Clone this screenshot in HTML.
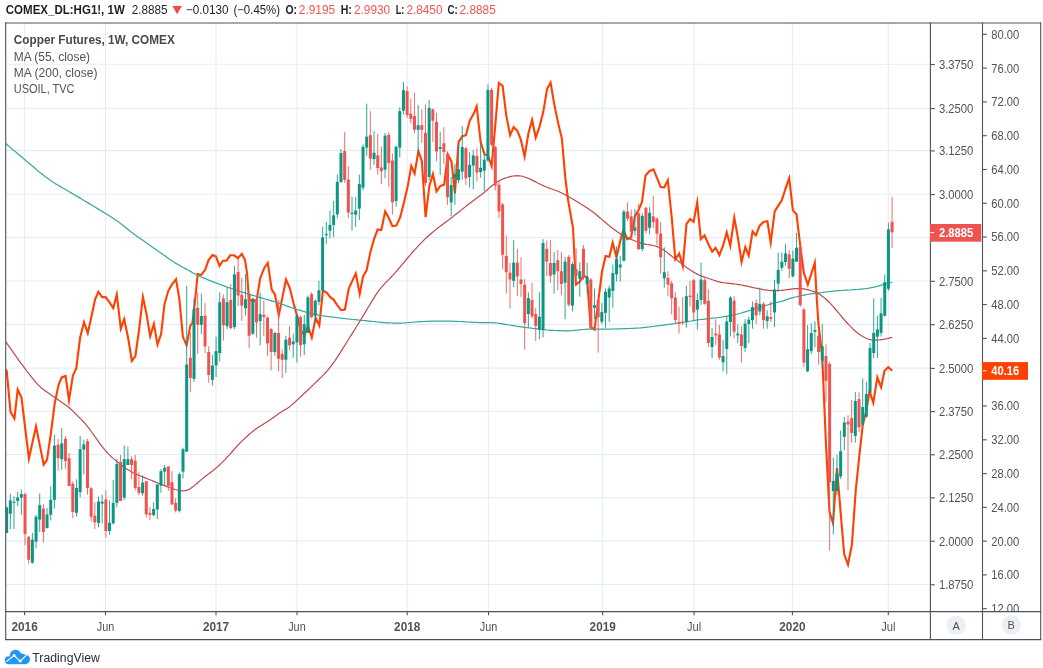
<!DOCTYPE html><html><head><meta charset="utf-8"><title>chart</title>
<style>html,body{margin:0;padding:0;background:#fff}body{width:1043px;height:668px;overflow:hidden;font-family:"Liberation Sans",sans-serif}svg{display:block;will-change:transform;transform:translateZ(0)}text{font-family:"Liberation Sans",sans-serif}</style></head><body>
<svg width="1043" height="668" viewBox="0 0 1043 668">
<rect width="1043" height="668" fill="#fff"/>
<defs><clipPath id="plot"><rect x="6" y="23.5" width="924" height="588"/></clipPath><clipPath id="axb"><rect x="983" y="23.5" width="57" height="588"/></clipPath></defs>
<g stroke="#e4edf3" stroke-width="1.1">
<line x1="6" x2="930" y1="64.2" y2="64.2"/>
<line x1="6" x2="930" y1="108.3" y2="108.3"/>
<line x1="6" x2="930" y1="150.6" y2="150.6"/>
<line x1="6" x2="930" y1="194.3" y2="194.3"/>
<line x1="6" x2="930" y1="237.6" y2="237.6"/>
<line x1="6" x2="930" y1="281.0" y2="281.0"/>
<line x1="6" x2="930" y1="324.4" y2="324.4"/>
<line x1="6" x2="930" y1="368.1" y2="368.1"/>
<line x1="6" x2="930" y1="411.3" y2="411.3"/>
<line x1="6" x2="930" y1="454.5" y2="454.5"/>
<line x1="6" x2="930" y1="497.6" y2="497.6"/>
<line x1="6" x2="930" y1="540.9" y2="540.9"/>
<line x1="6" x2="930" y1="584.5" y2="584.5"/>
<line x1="24.6" x2="24.6" y1="23" y2="611"/>
<line x1="105.5" x2="105.5" y1="23" y2="611"/>
<line x1="216.0" x2="216.0" y1="23" y2="611"/>
<line x1="297.0" x2="297.0" y1="23" y2="611"/>
<line x1="407.2" x2="407.2" y1="23" y2="611"/>
<line x1="488.5" x2="488.5" y1="23" y2="611"/>
<line x1="602.7" x2="602.7" y1="23" y2="611"/>
<line x1="694.1" x2="694.1" y1="23" y2="611"/>
<line x1="792.4" x2="792.4" y1="23" y2="611"/>
<line x1="888.3" x2="888.3" y1="23" y2="611"/>
</g>
<g clip-path="url(#plot)">
<path d="M4.8 368.8 L6.7 370.7 L10.5 411.9 L14.4 418.5 L17.7 389.5 L21.5 397.5 L28.9 458.7 L36.0 426.3 L43.7 464.6 L47.0 459.8 L50.8 434.0 L54.7 403.3 L58.5 385.1 L61.7 377.4 L65.6 376.0 L69.0 400.3 L72.9 375.5 L76.3 368.1 L80.1 337.8 L84.0 322.1 L87.8 333.2 L91.6 315.7 L95.1 299.4 L98.4 291.8 L102.2 297.1 L105.6 297.1 L109.5 302.3 L113.3 308.1 L116.8 294.4 L120.8 328.7 L124.2 319.2 L128.1 337.8 L131.9 360.8 L135.4 356.0 L139.0 330.1 L142.9 297.0 L146.3 312.9 L150.2 336.3 L153.9 323.9 L157.5 344.5 L161.1 334.0 L164.5 304.2 L168.3 290.8 L172.2 284.1 L176.0 279.3 L179.3 298.5 L182.9 336.8 L186.6 345.2 L190.4 325.3 L192.3 323.4 L194.2 309.0 L197.7 274.1 L201.3 274.9 L205.2 269.7 L208.6 260.1 L212.4 255.0 L215.9 256.3 L219.5 265.9 L223.0 260.7 L226.4 260.7 L230.3 255.3 L234.1 255.3 L237.9 258.2 L241.8 253.8 L245.0 260.1 L247.1 273.4 L249.0 301.2 L252.9 299.3 L256.3 302.2 L260.2 278.2 L264.4 267.7 L267.8 262.9 L271.7 289.7 L274.9 294.5 L278.8 315.2 L282.6 296.4 L286.0 279.5 L289.7 287.8 L293.5 303.1 L297.0 315.6 L300.8 330.9 L304.6 334.8 L308.1 326.2 L311.8 337.6 L315.6 317.7 L319.3 325.5 L322.9 290.7 L326.7 292.6 L330.5 297.4 L333.4 299.3 L337.2 305.1 L341.1 310.2 L344.9 309.5 L348.7 288.8 L352.6 280.1 L355.8 273.5 L359.7 294.0 L363.1 276.3 L366.6 270.3 L370.4 252.0 L374.2 238.6 L377.7 229.4 L381.3 230.0 L385.2 211.4 L388.6 217.5 L392.4 226.2 L396.3 225.6 L400.1 217.5 L404.0 202.2 L407.8 185.9 L411.3 165.9 L414.6 173.6 L418.4 151.1 L421.8 160.7 L425.6 217.2 L429.4 185.6 L432.9 174.1 L436.5 191.4 L440.4 186.0 L444.2 184.7 L447.8 154.4 L451.5 161.6 L454.9 193.3 L458.6 141.9 L462.4 136.2 L465.9 135.2 L469.7 120.8 L473.5 114.1 L476.7 106.5 L480.6 141.9 L484.5 154.4 L487.9 155.3 L491.6 166.0 L495.3 125.2 L498.8 83.0 L502.6 85.9 L506.3 115.6 L510.1 135.3 L513.6 127.1 L517.4 130.9 L520.8 139.6 L524.6 156.5 L528.5 132.9 L532.1 119.8 L535.7 137.5 L539.4 127.1 L543.3 111.8 L547.1 88.8 L550.6 82.6 L554.4 105.1 L558.2 123.3 L561.9 138.6 L565.3 177.9 L568.2 200.9 L573.0 227.8 L575.9 284.7 L579.7 281.8 L583.5 276.0 L587.0 277.0 L590.6 326.8 L594.5 329.7 L598.3 300.9 L602.1 271.2 L605.6 255.9 L609.4 256.8 L612.7 242.7 L616.5 257.5 L620.6 239.6 L623.4 229.7 L627.3 239.3 L631.1 237.4 L634.9 216.3 L638.8 209.6 L642.0 201.9 L645.5 175.6 L649.3 171.2 L653.5 169.3 L657.4 178.9 L660.6 187.1 L664.2 187.4 L667.8 180.2 L671.7 217.1 L675.3 259.3 L679.2 253.5 L682.8 266.2 L686.5 223.8 L690.1 219.0 L693.6 221.9 L697.2 202.3 L700.8 239.2 L704.5 235.3 L708.3 244.0 L712.2 251.6 L715.6 247.8 L719.4 255.1 L723.3 244.9 L726.7 232.3 L730.3 245.7 L734.3 217.6 L737.7 236.3 L741.6 262.0 L745.3 247.0 L748.7 255.6 L752.6 231.5 L755.9 235.3 L759.7 225.7 L763.5 221.9 L767.4 221.3 L770.7 242.5 L774.7 211.4 L778.3 205.6 L781.8 200.2 L785.6 188.4 L789.2 178.2 L792.9 210.4 L796.5 214.2 L800.4 246.8 L803.8 272.7 L807.8 284.7 L811.4 273.4 L814.8 262.7 L816.4 292.6 L818.4 323.3 L822.2 355.9 L826.0 445.0 L829.5 512.1 L833.0 523.2 L837.0 468.0 L840.6 512.1 L844.2 554.3 L848.0 564.7 L851.9 544.7 L855.7 491.0 L859.0 458.9 L862.8 424.4 L866.3 410.9 L869.6 391.2 L873.3 402.8 L877.3 377.3 L881.1 387.3 L884.5 370.7 L888.3 367.2 L892.2 370.7" fill="none" stroke="#ff4000" stroke-width="2.1" stroke-linejoin="miter" stroke-miterlimit="10" stroke-linecap="butt"/>
<path d="M5.2 143.0 L7.2 144.7 L9.2 146.5 L11.2 148.2 L13.2 149.9 L15.2 151.5 L17.2 153.2 L19.2 154.9 L21.2 156.6 L23.2 158.3 L25.2 160.0 L27.2 161.7 L29.2 163.4 L31.2 165.1 L33.2 166.8 L35.2 168.5 L37.2 170.2 L39.2 171.8 L41.2 173.4 L43.2 175.0 L45.2 176.6 L47.2 178.1 L49.2 179.6 L51.2 181.0 L53.2 182.3 L55.2 183.6 L57.2 184.8 L59.2 185.9 L61.2 187.1 L63.2 188.2 L65.2 189.3 L67.2 190.5 L69.2 191.7 L71.2 192.9 L73.2 194.0 L75.2 195.2 L77.2 196.4 L79.2 197.6 L81.2 198.8 L83.2 200.0 L85.2 201.2 L87.2 202.4 L89.2 203.6 L91.2 204.8 L93.2 206.0 L95.2 207.2 L97.2 208.4 L99.2 209.6 L101.2 210.9 L103.2 212.1 L105.2 213.3 L107.2 214.5 L109.2 215.8 L111.2 217.1 L113.2 218.4 L115.2 219.7 L117.2 221.1 L119.2 222.5 L121.2 224.0 L123.2 225.6 L125.2 227.2 L127.2 228.8 L129.2 230.4 L131.2 232.0 L133.2 233.5 L135.2 235.0 L137.2 236.4 L139.2 237.8 L141.2 239.2 L143.2 240.6 L145.2 242.0 L147.2 243.4 L149.2 244.8 L151.2 246.2 L153.2 247.7 L155.2 249.1 L157.2 250.5 L159.2 251.9 L161.2 253.3 L163.2 254.7 L165.2 256.1 L167.2 257.5 L169.2 258.9 L171.2 260.2 L173.2 261.6 L175.2 262.9 L177.2 264.1 L179.2 265.2 L181.2 266.4 L183.2 267.5 L185.2 268.6 L187.2 269.7 L189.2 270.8 L191.2 271.9 L193.2 273.0 L195.2 274.0 L197.2 275.1 L199.2 276.1 L201.2 277.0 L203.2 277.9 L205.2 278.7 L207.2 279.5 L209.2 280.3 L211.2 281.1 L213.2 281.9 L215.2 282.7 L217.2 283.4 L219.2 284.2 L221.2 284.9 L223.2 285.6 L225.2 286.4 L227.2 287.1 L229.2 287.8 L231.2 288.5 L233.2 289.1 L235.2 289.8 L237.2 290.5 L239.2 291.1 L241.2 291.8 L243.2 292.4 L245.2 293.0 L247.2 293.6 L249.2 294.2 L251.2 294.8 L253.2 295.4 L255.2 296.0 L257.2 296.6 L259.2 297.2 L261.2 297.8 L263.2 298.4 L265.2 299.0 L267.2 299.6 L269.2 300.2 L271.2 300.8 L273.2 301.4 L275.2 302.0 L277.2 302.7 L279.2 303.4 L281.2 304.1 L283.2 304.7 L285.2 305.4 L287.2 306.1 L289.2 306.8 L291.2 307.5 L293.2 308.2 L295.2 308.9 L297.2 309.5 L299.2 310.1 L301.2 310.7 L303.2 311.3 L305.2 311.9 L307.2 312.5 L309.2 313.1 L311.2 313.6 L313.2 314.1 L315.2 314.6 L317.2 314.9 L319.2 315.3 L321.2 315.5 L323.2 315.8 L325.2 316.1 L327.2 316.3 L329.2 316.6 L331.2 316.8 L333.2 317.1 L335.2 317.3 L337.2 317.6 L339.2 317.8 L341.2 318.1 L343.2 318.3 L345.2 318.6 L347.2 318.8 L349.2 319.0 L351.2 319.3 L353.2 319.5 L355.2 319.7 L357.2 319.9 L359.2 320.1 L361.2 320.3 L363.2 320.5 L365.2 320.7 L367.2 320.9 L369.2 321.1 L371.2 321.3 L373.2 321.5 L375.2 321.7 L377.2 322.0 L379.2 322.2 L381.2 322.4 L383.2 322.6 L385.2 322.7 L387.2 322.8 L389.2 322.9 L391.2 323.0 L393.2 323.1 L395.2 323.1 L397.2 323.1 L399.2 323.1 L401.2 323.1 L403.2 323.0 L405.2 322.8 L407.2 322.7 L409.2 322.5 L411.2 322.3 L413.2 322.2 L415.2 322.0 L417.2 321.8 L419.2 321.7 L421.2 321.6 L423.2 321.5 L425.2 321.4 L427.2 321.4 L429.2 321.3 L431.2 321.2 L433.2 321.1 L435.2 321.1 L437.2 321.0 L439.2 321.0 L441.2 321.0 L443.2 321.1 L445.2 321.1 L447.2 321.2 L449.2 321.2 L451.2 321.2 L453.2 321.3 L455.2 321.4 L457.2 321.4 L459.2 321.5 L461.2 321.6 L463.2 321.7 L465.2 321.9 L467.2 322.0 L469.2 322.1 L471.2 322.2 L473.2 322.3 L475.2 322.4 L477.2 322.4 L479.2 322.5 L481.2 322.5 L483.2 322.5 L485.2 322.5 L487.2 322.5 L489.2 322.5 L491.2 322.6 L493.2 322.6 L495.2 322.8 L497.2 323.0 L499.2 323.3 L501.2 323.6 L503.2 323.9 L505.2 324.3 L507.2 324.6 L509.2 325.0 L511.2 325.3 L513.2 325.6 L515.2 325.9 L517.2 326.3 L519.2 326.6 L521.2 326.9 L523.2 327.2 L525.2 327.5 L527.2 327.7 L529.2 328.0 L531.2 328.2 L533.2 328.5 L535.2 328.7 L537.2 328.9 L539.2 329.2 L541.2 329.4 L543.2 329.6 L545.2 329.8 L547.2 330.0 L549.2 330.1 L551.2 330.3 L553.2 330.4 L555.2 330.5 L557.2 330.6 L559.2 330.6 L561.2 330.7 L563.2 330.8 L565.2 330.8 L567.2 330.8 L569.2 330.8 L571.2 330.6 L573.2 330.5 L575.2 330.3 L577.2 330.1 L579.2 329.8 L581.2 329.6 L583.2 329.5 L585.2 329.3 L587.2 329.2 L589.2 329.2 L591.2 329.2 L593.2 329.1 L595.2 329.1 L597.2 329.1 L599.2 329.1 L601.2 329.1 L603.2 329.1 L605.2 329.1 L607.2 329.1 L609.2 329.0 L611.2 329.0 L613.2 329.0 L615.2 328.9 L617.2 328.9 L619.2 328.8 L621.2 328.8 L623.2 328.7 L625.2 328.7 L627.2 328.6 L629.2 328.5 L631.2 328.4 L633.2 328.3 L635.2 328.2 L637.2 328.1 L639.2 328.0 L641.2 327.8 L643.2 327.6 L645.2 327.4 L647.2 327.2 L649.2 327.0 L651.2 326.7 L653.2 326.5 L655.2 326.2 L657.2 325.9 L659.2 325.7 L661.2 325.4 L663.2 325.2 L665.2 324.9 L667.2 324.6 L669.2 324.4 L671.2 324.1 L673.2 323.8 L675.2 323.5 L677.2 323.2 L679.2 322.9 L681.2 322.6 L683.2 322.3 L685.2 322.0 L687.2 321.6 L689.2 321.3 L691.2 321.0 L693.2 320.6 L695.2 320.3 L697.2 320.0 L699.2 319.7 L701.2 319.5 L703.2 319.3 L705.2 319.1 L707.2 318.9 L709.2 318.7 L711.2 318.4 L713.2 318.2 L715.2 318.0 L717.2 317.7 L719.2 317.5 L721.2 317.1 L723.2 316.8 L725.2 316.4 L727.2 316.1 L729.2 315.7 L731.2 315.3 L733.2 315.0 L735.2 314.5 L737.2 314.1 L739.2 313.5 L741.2 313.0 L743.2 312.4 L745.2 311.8 L747.2 311.2 L749.2 310.6 L751.2 310.0 L753.2 309.4 L755.2 308.8 L757.2 308.2 L759.2 307.6 L761.2 306.9 L763.2 306.3 L765.2 305.6 L767.2 305.0 L769.2 304.4 L771.2 303.8 L773.2 303.3 L775.2 302.8 L777.2 302.3 L779.2 301.9 L781.2 301.4 L783.2 300.8 L785.2 300.1 L787.2 299.4 L789.2 298.7 L791.2 298.1 L793.2 297.6 L795.2 297.0 L797.2 296.6 L799.2 296.1 L801.2 295.7 L803.2 295.3 L805.2 294.9 L807.2 294.5 L809.2 294.2 L811.2 293.9 L813.2 293.6 L815.2 293.4 L817.2 293.1 L819.2 292.8 L821.2 292.6 L823.2 292.3 L825.2 292.0 L827.2 291.8 L829.2 291.6 L831.2 291.3 L833.2 291.1 L835.2 290.9 L837.2 290.8 L839.2 290.6 L841.2 290.5 L843.2 290.3 L845.2 290.2 L847.2 290.1 L849.2 290.0 L851.2 289.9 L853.2 289.7 L855.2 289.6 L857.2 289.5 L859.2 289.3 L861.2 289.1 L863.2 288.9 L865.2 288.7 L867.2 288.4 L869.2 288.1 L871.2 287.7 L873.2 287.3 L875.2 286.9 L877.2 286.4 L879.2 285.8 L881.2 285.2 L883.2 284.7 L885.2 284.1 L887.2 283.5 L889.2 283.0 L891.2 282.5 L892.2 282.1" fill="none" stroke="#3aa99c" stroke-width="1.25" stroke-linejoin="round"/>
<path d="M5.2 341.0 L7.2 343.8 L9.2 346.6 L11.2 349.4 L13.2 352.3 L15.2 355.2 L17.2 358.0 L19.2 360.8 L21.2 363.6 L23.2 366.2 L25.2 368.9 L27.2 371.5 L29.2 374.1 L31.2 376.7 L33.2 379.2 L35.2 381.6 L37.2 383.8 L39.2 385.9 L41.2 387.7 L43.2 389.3 L45.2 390.8 L47.2 392.2 L49.2 393.6 L51.2 395.0 L53.2 396.4 L55.2 397.8 L57.2 399.1 L59.2 400.5 L61.2 401.9 L63.2 403.2 L65.2 404.7 L67.2 406.1 L69.2 407.8 L71.2 409.5 L73.2 411.4 L75.2 413.3 L77.2 415.3 L79.2 417.3 L81.2 419.3 L83.2 421.5 L85.2 423.7 L87.2 426.2 L89.2 428.7 L91.2 431.5 L93.2 434.2 L95.2 437.0 L97.2 439.8 L99.2 442.6 L101.2 445.3 L103.2 447.8 L105.2 450.3 L107.2 452.5 L109.2 454.6 L111.2 456.6 L113.2 458.4 L115.2 460.1 L117.2 461.8 L119.2 463.4 L121.2 464.9 L123.2 466.4 L125.2 467.9 L127.2 469.2 L129.2 470.4 L131.2 471.6 L133.2 472.7 L135.2 473.7 L137.2 474.6 L139.2 475.5 L141.2 476.3 L143.2 477.1 L145.2 477.9 L147.2 478.7 L149.2 479.5 L151.2 480.3 L153.2 481.1 L155.2 481.9 L157.2 482.7 L159.2 483.5 L161.2 484.3 L163.2 485.1 L165.2 485.9 L167.2 486.7 L169.2 487.5 L171.2 488.2 L173.2 488.9 L175.2 489.5 L177.2 490.0 L179.2 490.4 L181.2 490.7 L183.2 490.8 L185.2 490.6 L187.2 490.1 L189.2 489.2 L191.2 488.0 L193.2 486.6 L195.2 484.9 L197.2 483.2 L199.2 481.4 L201.2 479.6 L203.2 478.0 L205.2 476.4 L207.2 474.9 L209.2 473.4 L211.2 471.9 L213.2 470.4 L215.2 468.8 L217.2 467.1 L219.2 465.3 L221.2 463.4 L223.2 461.4 L225.2 459.4 L227.2 457.2 L229.2 455.1 L231.2 452.8 L233.2 450.5 L235.2 448.2 L237.2 446.0 L239.2 443.9 L241.2 441.9 L243.2 439.9 L245.2 438.0 L247.2 436.2 L249.2 434.3 L251.2 432.6 L253.2 431.0 L255.2 429.5 L257.2 428.1 L259.2 426.8 L261.2 425.6 L263.2 424.3 L265.2 423.1 L267.2 421.8 L269.2 420.5 L271.2 419.1 L273.2 417.7 L275.2 416.2 L277.2 414.7 L279.2 413.3 L281.2 412.0 L283.2 410.8 L285.2 409.6 L287.2 408.4 L289.2 407.0 L291.2 405.4 L293.2 403.7 L295.2 401.9 L297.2 400.0 L299.2 398.1 L301.2 396.3 L303.2 394.4 L305.2 392.5 L307.2 390.7 L309.2 388.8 L311.2 386.8 L313.2 384.9 L315.2 382.9 L317.2 381.0 L319.2 379.0 L321.2 377.1 L323.2 375.1 L325.2 373.0 L327.2 370.8 L329.2 368.4 L331.2 365.9 L333.2 363.2 L335.2 360.4 L337.2 357.4 L339.2 354.3 L341.2 351.1 L343.2 347.9 L345.2 344.7 L347.2 341.5 L349.2 338.3 L351.2 335.1 L353.2 331.9 L355.2 328.7 L357.2 325.5 L359.2 322.3 L361.2 319.0 L363.2 315.7 L365.2 312.4 L367.2 309.0 L369.2 305.7 L371.2 302.4 L373.2 299.1 L375.2 295.9 L377.2 292.9 L379.2 290.1 L381.2 287.6 L383.2 285.3 L385.2 283.1 L387.2 281.1 L389.2 279.1 L391.2 277.0 L393.2 274.9 L395.2 272.7 L397.2 270.4 L399.2 268.1 L401.2 265.7 L403.2 263.3 L405.2 260.9 L407.2 258.5 L409.2 256.2 L411.2 253.8 L413.2 251.5 L415.2 249.3 L417.2 247.1 L419.2 244.9 L421.2 242.8 L423.2 240.8 L425.2 238.9 L427.2 237.0 L429.2 235.2 L431.2 233.5 L433.2 231.8 L435.2 230.1 L437.2 228.5 L439.2 227.0 L441.2 225.5 L443.2 224.0 L445.2 222.5 L447.2 221.0 L449.2 219.4 L451.2 217.9 L453.2 216.4 L455.2 214.8 L457.2 213.2 L459.2 211.7 L461.2 210.1 L463.2 208.5 L465.2 206.9 L467.2 205.3 L469.2 203.7 L471.2 202.2 L473.2 200.7 L475.2 199.2 L477.2 197.8 L479.2 196.3 L481.2 194.8 L483.2 193.2 L485.2 191.6 L487.2 189.8 L489.2 188.1 L491.2 186.3 L493.2 184.7 L495.2 183.2 L497.2 181.8 L499.2 180.7 L501.2 179.7 L503.2 178.8 L505.2 178.1 L507.2 177.5 L509.2 176.9 L511.2 176.4 L513.2 176.0 L515.2 175.8 L517.2 175.7 L519.2 175.8 L521.2 176.0 L523.2 176.5 L525.2 177.2 L527.2 177.9 L529.2 178.7 L531.2 179.6 L533.2 180.6 L535.2 181.6 L537.2 182.7 L539.2 183.7 L541.2 184.7 L543.2 185.6 L545.2 186.5 L547.2 187.3 L549.2 188.1 L551.2 188.8 L553.2 189.5 L555.2 190.2 L557.2 191.0 L559.2 191.8 L561.2 192.7 L563.2 193.7 L565.2 194.8 L567.2 195.9 L569.2 197.0 L571.2 198.2 L573.2 199.3 L575.2 200.5 L577.2 201.7 L579.2 202.9 L581.2 204.2 L583.2 205.4 L585.2 206.7 L587.2 208.0 L589.2 209.4 L591.2 210.8 L593.2 212.3 L595.2 213.8 L597.2 215.5 L599.2 217.2 L601.2 218.9 L603.2 220.6 L605.2 222.3 L607.2 224.0 L609.2 225.6 L611.2 227.2 L613.2 228.8 L615.2 230.2 L617.2 231.7 L619.2 233.1 L621.2 234.4 L623.2 235.6 L625.2 236.7 L627.2 237.6 L629.2 238.5 L631.2 239.4 L633.2 240.2 L635.2 241.0 L637.2 241.7 L639.2 242.5 L641.2 243.1 L643.2 243.7 L645.2 244.1 L647.2 244.5 L649.2 244.8 L651.2 245.1 L653.2 245.5 L655.2 246.0 L657.2 246.6 L659.2 247.4 L661.2 248.4 L663.2 249.6 L665.2 251.0 L667.2 252.6 L669.2 254.2 L671.2 255.8 L673.2 257.4 L675.2 258.8 L677.2 260.3 L679.2 261.8 L681.2 263.3 L683.2 264.8 L685.2 266.4 L687.2 267.9 L689.2 269.3 L691.2 270.6 L693.2 271.9 L695.2 273.0 L697.2 274.1 L699.2 275.0 L701.2 275.9 L703.2 276.6 L705.2 277.3 L707.2 278.0 L709.2 278.7 L711.2 279.3 L713.2 280.0 L715.2 280.6 L717.2 281.3 L719.2 281.8 L721.2 282.3 L723.2 282.7 L725.2 283.0 L727.2 283.2 L729.2 283.4 L731.2 283.6 L733.2 283.8 L735.2 284.0 L737.2 284.3 L739.2 284.6 L741.2 285.0 L743.2 285.4 L745.2 285.8 L747.2 286.2 L749.2 286.7 L751.2 287.1 L753.2 287.6 L755.2 288.0 L757.2 288.4 L759.2 288.9 L761.2 289.2 L763.2 289.6 L765.2 289.9 L767.2 290.2 L769.2 290.5 L771.2 290.6 L773.2 290.7 L775.2 290.7 L777.2 290.6 L779.2 290.5 L781.2 290.4 L783.2 290.1 L785.2 289.9 L787.2 289.6 L789.2 289.3 L791.2 289.1 L793.2 288.9 L795.2 288.7 L797.2 288.6 L799.2 288.6 L801.2 288.7 L803.2 288.9 L805.2 289.2 L807.2 289.6 L809.2 290.1 L811.2 290.7 L813.2 291.4 L815.2 292.1 L817.2 293.0 L819.2 294.1 L821.2 295.4 L823.2 296.9 L825.2 298.5 L827.2 300.3 L829.2 302.2 L831.2 304.4 L833.2 306.6 L835.2 309.0 L837.2 311.4 L839.2 313.7 L841.2 316.1 L843.2 318.5 L845.2 320.8 L847.2 323.0 L849.2 325.2 L851.2 327.2 L853.2 329.2 L855.2 331.0 L857.2 332.7 L859.2 334.2 L861.2 335.6 L863.2 336.8 L865.2 337.8 L867.2 338.7 L869.2 339.4 L871.2 339.8 L873.2 340.1 L875.2 340.2 L877.2 340.1 L879.2 340.0 L881.2 339.7 L883.2 339.4 L885.2 339.0 L887.2 338.6 L889.2 338.1 L891.2 337.7 L892.2 337.3" fill="none" stroke="#c2474b" stroke-width="1.2" stroke-linejoin="round"/>
<rect x="6.15" y="506.2" width="1" height="26.8" fill="#0b9683" opacity=".85"/>
<rect x="5.15" y="507.5" width="3" height="25.5" fill="#0b9683"/>
<rect x="9.82" y="493.7" width="1" height="35.5" fill="#0b9683" opacity=".85"/>
<rect x="8.82" y="500.4" width="3" height="13.4" fill="#0b9683"/>
<rect x="13.50" y="496.2" width="1" height="33.0" fill="#0b9683" opacity=".85"/>
<rect x="12.50" y="501.7" width="3" height="1.2" fill="#0b9683"/>
<rect x="17.17" y="491.8" width="1" height="14.4" fill="#0b9683" opacity=".85"/>
<rect x="16.17" y="497.5" width="3" height="3.5" fill="#0b9683"/>
<rect x="20.85" y="489.5" width="1" height="25.3" fill="#0b9683" opacity=".85"/>
<rect x="19.85" y="494.1" width="3" height="3.5" fill="#0b9683"/>
<rect x="24.52" y="492.7" width="1" height="52.7" fill="#ef5350" opacity=".85"/>
<rect x="23.52" y="494.1" width="3" height="39.9" fill="#ef5350"/>
<rect x="28.19" y="535.9" width="1" height="27.8" fill="#ef5350" opacity=".85"/>
<rect x="27.19" y="536.8" width="3" height="23.0" fill="#ef5350"/>
<rect x="31.87" y="533.0" width="1" height="30.7" fill="#0b9683" opacity=".85"/>
<rect x="30.87" y="539.7" width="3" height="23.0" fill="#0b9683"/>
<rect x="35.54" y="514.8" width="1" height="33.6" fill="#0b9683" opacity=".85"/>
<rect x="34.54" y="516.7" width="3" height="24.9" fill="#0b9683"/>
<rect x="39.22" y="493.3" width="1" height="38.7" fill="#0b9683" opacity=".85"/>
<rect x="38.22" y="505.2" width="3" height="14.4" fill="#0b9683"/>
<rect x="42.89" y="504.2" width="1" height="38.4" fill="#ef5350" opacity=".85"/>
<rect x="41.89" y="508.6" width="3" height="23.4" fill="#ef5350"/>
<rect x="46.56" y="508.1" width="1" height="20.1" fill="#0b9683" opacity=".85"/>
<rect x="45.56" y="514.4" width="3" height="13.8" fill="#0b9683"/>
<rect x="50.24" y="486.4" width="1" height="34.1" fill="#0b9683" opacity=".85"/>
<rect x="49.24" y="499.8" width="3" height="15.0" fill="#0b9683"/>
<rect x="53.91" y="434.8" width="1" height="73.8" fill="#0b9683" opacity=".85"/>
<rect x="52.91" y="445.6" width="3" height="54.3" fill="#0b9683"/>
<rect x="57.59" y="438.8" width="1" height="31.8" fill="#ef5350" opacity=".85"/>
<rect x="56.59" y="444.6" width="3" height="13.6" fill="#ef5350"/>
<rect x="61.26" y="428.1" width="1" height="41.6" fill="#0b9683" opacity=".85"/>
<rect x="60.26" y="443.3" width="3" height="15.9" fill="#0b9683"/>
<rect x="64.93" y="436.0" width="1" height="32.8" fill="#ef5350" opacity=".85"/>
<rect x="63.93" y="438.8" width="3" height="22.2" fill="#ef5350"/>
<rect x="68.61" y="453.0" width="1" height="33.0" fill="#ef5350" opacity=".85"/>
<rect x="67.61" y="458.2" width="3" height="27.8" fill="#ef5350"/>
<rect x="72.28" y="481.2" width="1" height="37.0" fill="#ef5350" opacity=".85"/>
<rect x="71.28" y="483.7" width="3" height="28.2" fill="#ef5350"/>
<rect x="75.96" y="479.3" width="1" height="37.4" fill="#0b9683" opacity=".85"/>
<rect x="74.96" y="487.9" width="3" height="24.9" fill="#0b9683"/>
<rect x="79.63" y="436.0" width="1" height="61.2" fill="#0b9683" opacity=".85"/>
<rect x="78.63" y="449.2" width="3" height="43.0" fill="#0b9683"/>
<rect x="83.30" y="439.6" width="1" height="34.9" fill="#0b9683" opacity=".85"/>
<rect x="82.30" y="444.4" width="3" height="5.2" fill="#0b9683"/>
<rect x="86.98" y="438.8" width="1" height="55.8" fill="#ef5350" opacity=".85"/>
<rect x="85.98" y="441.2" width="3" height="46.8" fill="#ef5350"/>
<rect x="90.65" y="487.0" width="1" height="34.5" fill="#ef5350" opacity=".85"/>
<rect x="89.65" y="488.3" width="3" height="28.4" fill="#ef5350"/>
<rect x="94.33" y="502.3" width="1" height="26.8" fill="#ef5350" opacity=".85"/>
<rect x="93.33" y="515.7" width="3" height="6.7" fill="#ef5350"/>
<rect x="98.00" y="496.6" width="1" height="30.7" fill="#0b9683" opacity=".85"/>
<rect x="97.00" y="501.4" width="3" height="21.5" fill="#0b9683"/>
<rect x="101.67" y="494.7" width="1" height="28.8" fill="#0b9683" opacity=".85"/>
<rect x="100.67" y="501.7" width="3" height="1.9" fill="#0b9683"/>
<rect x="105.35" y="490.2" width="1" height="47.6" fill="#ef5350" opacity=".85"/>
<rect x="104.35" y="499.4" width="3" height="31.6" fill="#ef5350"/>
<rect x="109.02" y="500.4" width="1" height="34.5" fill="#0b9683" opacity=".85"/>
<rect x="108.02" y="522.8" width="3" height="8.2" fill="#0b9683"/>
<rect x="112.70" y="479.9" width="1" height="44.5" fill="#0b9683" opacity=".85"/>
<rect x="111.70" y="502.9" width="3" height="20.5" fill="#0b9683"/>
<rect x="116.37" y="458.8" width="1" height="48.7" fill="#0b9683" opacity=".85"/>
<rect x="115.37" y="464.0" width="3" height="38.9" fill="#0b9683"/>
<rect x="120.04" y="455.0" width="1" height="46.0" fill="#ef5350" opacity=".85"/>
<rect x="119.04" y="462.1" width="3" height="38.9" fill="#ef5350"/>
<rect x="123.72" y="445.4" width="1" height="54.5" fill="#0b9683" opacity=".85"/>
<rect x="122.72" y="459.2" width="3" height="38.4" fill="#0b9683"/>
<rect x="127.39" y="446.7" width="1" height="18.2" fill="#0b9683" opacity=".85"/>
<rect x="126.39" y="459.2" width="3" height="5.8" fill="#0b9683"/>
<rect x="131.07" y="456.3" width="1" height="23.0" fill="#ef5350" opacity=".85"/>
<rect x="130.07" y="459.2" width="3" height="5.8" fill="#ef5350"/>
<rect x="134.74" y="455.0" width="1" height="35.3" fill="#ef5350" opacity=".85"/>
<rect x="133.74" y="460.7" width="3" height="27.2" fill="#ef5350"/>
<rect x="138.41" y="471.6" width="1" height="23.6" fill="#ef5350" opacity=".85"/>
<rect x="137.41" y="487.0" width="3" height="5.8" fill="#ef5350"/>
<rect x="142.09" y="475.5" width="1" height="20.1" fill="#0b9683" opacity=".85"/>
<rect x="141.09" y="482.6" width="3" height="10.7" fill="#0b9683"/>
<rect x="145.76" y="481.2" width="1" height="36.4" fill="#ef5350" opacity=".85"/>
<rect x="144.76" y="481.2" width="3" height="33.2" fill="#ef5350"/>
<rect x="149.44" y="507.1" width="1" height="13.0" fill="#ef5350" opacity=".85"/>
<rect x="148.44" y="512.9" width="3" height="1.9" fill="#ef5350"/>
<rect x="153.11" y="502.3" width="1" height="14.0" fill="#0b9683" opacity=".85"/>
<rect x="152.11" y="509.0" width="3" height="6.1" fill="#0b9683"/>
<rect x="156.78" y="483.7" width="1" height="35.3" fill="#0b9683" opacity=".85"/>
<rect x="155.78" y="484.5" width="3" height="24.9" fill="#0b9683"/>
<rect x="160.46" y="469.1" width="1" height="23.6" fill="#0b9683" opacity=".85"/>
<rect x="159.46" y="471.1" width="3" height="14.6" fill="#0b9683"/>
<rect x="164.13" y="464.9" width="1" height="20.7" fill="#0b9683" opacity=".85"/>
<rect x="163.13" y="467.8" width="3" height="3.8" fill="#0b9683"/>
<rect x="167.81" y="466.5" width="1" height="24.4" fill="#ef5350" opacity=".85"/>
<rect x="166.81" y="466.5" width="3" height="19.6" fill="#ef5350"/>
<rect x="171.48" y="471.1" width="1" height="34.1" fill="#ef5350" opacity=".85"/>
<rect x="170.48" y="482.2" width="3" height="22.1" fill="#ef5350"/>
<rect x="175.15" y="497.9" width="1" height="14.6" fill="#ef5350" opacity=".85"/>
<rect x="174.15" y="502.9" width="3" height="7.7" fill="#ef5350"/>
<rect x="178.83" y="472.2" width="1" height="40.3" fill="#0b9683" opacity=".85"/>
<rect x="177.83" y="474.1" width="3" height="36.8" fill="#0b9683"/>
<rect x="182.50" y="447.7" width="1" height="30.7" fill="#0b9683" opacity=".85"/>
<rect x="181.50" y="449.2" width="3" height="22.4" fill="#0b9683"/>
<rect x="186.18" y="285.9" width="1" height="165.9" fill="#0b9683" opacity=".85"/>
<rect x="185.18" y="364.5" width="3" height="87.2" fill="#0b9683"/>
<rect x="189.85" y="332.3" width="1" height="60.0" fill="#ef5350" opacity=".85"/>
<rect x="188.85" y="357.8" width="3" height="20.1" fill="#ef5350"/>
<rect x="193.52" y="298.4" width="1" height="83.4" fill="#0b9683" opacity=".85"/>
<rect x="192.52" y="308.9" width="3" height="70.0" fill="#0b9683"/>
<rect x="197.20" y="292.6" width="1" height="61.4" fill="#ef5350" opacity=".85"/>
<rect x="196.20" y="307.9" width="3" height="16.9" fill="#ef5350"/>
<rect x="200.87" y="293.6" width="1" height="40.3" fill="#0b9683" opacity=".85"/>
<rect x="199.87" y="316.0" width="3" height="8.8" fill="#0b9683"/>
<rect x="204.55" y="303.1" width="1" height="49.9" fill="#ef5350" opacity=".85"/>
<rect x="203.55" y="315.6" width="3" height="30.7" fill="#ef5350"/>
<rect x="208.22" y="346.3" width="1" height="36.4" fill="#ef5350" opacity=".85"/>
<rect x="207.22" y="352.0" width="3" height="23.0" fill="#ef5350"/>
<rect x="211.89" y="354.9" width="1" height="30.7" fill="#0b9683" opacity=".85"/>
<rect x="210.89" y="365.5" width="3" height="14.4" fill="#0b9683"/>
<rect x="215.57" y="336.7" width="1" height="40.3" fill="#0b9683" opacity=".85"/>
<rect x="214.57" y="351.1" width="3" height="14.4" fill="#0b9683"/>
<rect x="219.24" y="292.2" width="1" height="69.4" fill="#0b9683" opacity=".85"/>
<rect x="218.24" y="302.2" width="3" height="50.8" fill="#0b9683"/>
<rect x="222.92" y="294.5" width="1" height="46.0" fill="#ef5350" opacity=".85"/>
<rect x="221.92" y="298.4" width="3" height="26.8" fill="#ef5350"/>
<rect x="226.59" y="287.8" width="1" height="41.2" fill="#0b9683" opacity=".85"/>
<rect x="225.59" y="302.2" width="3" height="24.0" fill="#0b9683"/>
<rect x="230.26" y="284.0" width="1" height="45.4" fill="#ef5350" opacity=".85"/>
<rect x="229.26" y="299.9" width="3" height="28.2" fill="#ef5350"/>
<rect x="233.94" y="265.8" width="1" height="63.3" fill="#0b9683" opacity=".85"/>
<rect x="232.94" y="274.4" width="3" height="52.7" fill="#0b9683"/>
<rect x="237.61" y="258.1" width="1" height="47.9" fill="#ef5350" opacity=".85"/>
<rect x="236.61" y="271.9" width="3" height="23.6" fill="#ef5350"/>
<rect x="241.29" y="277.6" width="1" height="43.3" fill="#ef5350" opacity=".85"/>
<rect x="240.29" y="294.9" width="3" height="10.7" fill="#ef5350"/>
<rect x="244.96" y="273.8" width="1" height="41.8" fill="#0b9683" opacity=".85"/>
<rect x="243.96" y="299.3" width="3" height="9.0" fill="#0b9683"/>
<rect x="248.63" y="294.5" width="1" height="53.7" fill="#ef5350" opacity=".85"/>
<rect x="247.63" y="294.5" width="3" height="41.2" fill="#ef5350"/>
<rect x="252.31" y="298.4" width="1" height="36.4" fill="#0b9683" opacity=".85"/>
<rect x="251.31" y="299.9" width="3" height="33.9" fill="#0b9683"/>
<rect x="255.98" y="296.4" width="1" height="41.2" fill="#ef5350" opacity=".85"/>
<rect x="254.98" y="299.3" width="3" height="23.0" fill="#ef5350"/>
<rect x="259.66" y="292.6" width="1" height="52.7" fill="#0b9683" opacity=".85"/>
<rect x="258.66" y="314.1" width="3" height="6.9" fill="#0b9683"/>
<rect x="263.33" y="300.3" width="1" height="35.5" fill="#ef5350" opacity=".85"/>
<rect x="262.33" y="314.7" width="3" height="2.5" fill="#ef5350"/>
<rect x="267.00" y="316.6" width="1" height="39.3" fill="#ef5350" opacity=".85"/>
<rect x="266.00" y="317.5" width="3" height="25.9" fill="#ef5350"/>
<rect x="270.68" y="328.1" width="1" height="42.2" fill="#ef5350" opacity=".85"/>
<rect x="269.68" y="329.0" width="3" height="23.0" fill="#ef5350"/>
<rect x="274.35" y="331.9" width="1" height="24.0" fill="#0b9683" opacity=".85"/>
<rect x="273.35" y="332.9" width="3" height="19.2" fill="#0b9683"/>
<rect x="278.03" y="300.3" width="1" height="70.9" fill="#ef5350" opacity=".85"/>
<rect x="277.03" y="332.9" width="3" height="25.9" fill="#ef5350"/>
<rect x="281.70" y="349.2" width="1" height="28.8" fill="#ef5350" opacity=".85"/>
<rect x="280.70" y="354.0" width="3" height="5.8" fill="#ef5350"/>
<rect x="285.37" y="335.7" width="1" height="37.4" fill="#0b9683" opacity=".85"/>
<rect x="284.37" y="339.6" width="3" height="20.1" fill="#0b9683"/>
<rect x="289.05" y="326.2" width="1" height="24.0" fill="#ef5350" opacity=".85"/>
<rect x="288.05" y="337.7" width="3" height="7.7" fill="#ef5350"/>
<rect x="292.72" y="333.8" width="1" height="24.0" fill="#0b9683" opacity=".85"/>
<rect x="291.72" y="341.5" width="3" height="2.9" fill="#0b9683"/>
<rect x="296.40" y="314.7" width="1" height="47.9" fill="#0b9683" opacity=".85"/>
<rect x="295.40" y="315.6" width="3" height="26.8" fill="#0b9683"/>
<rect x="300.07" y="315.6" width="1" height="41.2" fill="#ef5350" opacity=".85"/>
<rect x="299.07" y="317.1" width="3" height="28.2" fill="#ef5350"/>
<rect x="303.74" y="314.7" width="1" height="40.3" fill="#0b9683" opacity=".85"/>
<rect x="302.74" y="324.2" width="3" height="20.1" fill="#0b9683"/>
<rect x="307.42" y="295.5" width="1" height="37.4" fill="#0b9683" opacity=".85"/>
<rect x="306.42" y="297.4" width="3" height="35.5" fill="#0b9683"/>
<rect x="311.09" y="292.2" width="1" height="26.3" fill="#ef5350" opacity=".85"/>
<rect x="310.09" y="294.1" width="3" height="23.0" fill="#ef5350"/>
<rect x="314.77" y="299.3" width="1" height="24.0" fill="#0b9683" opacity=".85"/>
<rect x="313.77" y="300.7" width="3" height="15.0" fill="#0b9683"/>
<rect x="318.44" y="280.7" width="1" height="24.4" fill="#0b9683" opacity=".85"/>
<rect x="317.44" y="290.3" width="3" height="11.5" fill="#0b9683"/>
<rect x="322.11" y="226.8" width="1" height="66.2" fill="#0b9683" opacity=".85"/>
<rect x="321.11" y="237.4" width="3" height="53.1" fill="#0b9683"/>
<rect x="325.79" y="221.9" width="1" height="21.9" fill="#0b9683" opacity=".85"/>
<rect x="324.79" y="234.1" width="3" height="1.2" fill="#0b9683"/>
<rect x="329.46" y="210.5" width="1" height="27.8" fill="#0b9683" opacity=".85"/>
<rect x="328.46" y="224.9" width="3" height="5.8" fill="#0b9683"/>
<rect x="333.14" y="200.9" width="1" height="36.4" fill="#0b9683" opacity=".85"/>
<rect x="332.14" y="215.3" width="3" height="9.6" fill="#0b9683"/>
<rect x="336.81" y="174.5" width="1" height="43.7" fill="#0b9683" opacity=".85"/>
<rect x="335.81" y="181.8" width="3" height="32.6" fill="#0b9683"/>
<rect x="340.48" y="149.2" width="1" height="33.6" fill="#0b9683" opacity=".85"/>
<rect x="339.48" y="153.0" width="3" height="29.1" fill="#0b9683"/>
<rect x="344.16" y="131.9" width="1" height="50.8" fill="#ef5350" opacity=".85"/>
<rect x="343.16" y="151.1" width="3" height="28.8" fill="#ef5350"/>
<rect x="347.83" y="166.0" width="1" height="52.2" fill="#ef5350" opacity=".85"/>
<rect x="346.83" y="179.5" width="3" height="33.0" fill="#ef5350"/>
<rect x="351.51" y="196.7" width="1" height="33.9" fill="#0b9683" opacity=".85"/>
<rect x="350.51" y="212.8" width="3" height="1.2" fill="#0b9683"/>
<rect x="355.18" y="196.7" width="1" height="30.1" fill="#0b9683" opacity=".85"/>
<rect x="354.18" y="210.5" width="3" height="4.2" fill="#0b9683"/>
<rect x="358.85" y="174.5" width="1" height="45.6" fill="#0b9683" opacity=".85"/>
<rect x="357.85" y="184.1" width="3" height="24.5" fill="#0b9683"/>
<rect x="362.53" y="144.4" width="1" height="46.0" fill="#0b9683" opacity=".85"/>
<rect x="361.53" y="146.9" width="3" height="40.7" fill="#0b9683"/>
<rect x="366.20" y="103.6" width="1" height="52.3" fill="#0b9683" opacity=".85"/>
<rect x="365.20" y="136.7" width="3" height="10.9" fill="#0b9683"/>
<rect x="369.88" y="111.2" width="1" height="58.5" fill="#ef5350" opacity=".85"/>
<rect x="368.88" y="135.2" width="3" height="23.4" fill="#ef5350"/>
<rect x="373.55" y="131.0" width="1" height="33.9" fill="#0b9683" opacity=".85"/>
<rect x="372.55" y="152.8" width="3" height="6.3" fill="#0b9683"/>
<rect x="377.22" y="133.9" width="1" height="40.7" fill="#ef5350" opacity=".85"/>
<rect x="376.22" y="155.3" width="3" height="12.8" fill="#ef5350"/>
<rect x="380.90" y="146.3" width="1" height="37.8" fill="#ef5350" opacity=".85"/>
<rect x="379.90" y="167.4" width="3" height="3.8" fill="#ef5350"/>
<rect x="384.57" y="132.9" width="1" height="45.4" fill="#0b9683" opacity=".85"/>
<rect x="383.57" y="135.6" width="3" height="34.1" fill="#0b9683"/>
<rect x="388.25" y="132.3" width="1" height="54.3" fill="#ef5350" opacity=".85"/>
<rect x="387.25" y="134.8" width="3" height="28.2" fill="#ef5350"/>
<rect x="391.92" y="153.4" width="1" height="61.0" fill="#ef5350" opacity=".85"/>
<rect x="390.92" y="160.5" width="3" height="41.8" fill="#ef5350"/>
<rect x="395.59" y="145.7" width="1" height="61.0" fill="#0b9683" opacity=".85"/>
<rect x="394.59" y="146.7" width="3" height="54.3" fill="#0b9683"/>
<rect x="399.27" y="107.4" width="1" height="49.9" fill="#0b9683" opacity=".85"/>
<rect x="398.27" y="111.2" width="3" height="36.4" fill="#0b9683"/>
<rect x="402.94" y="81.9" width="1" height="32.6" fill="#0b9683" opacity=".85"/>
<rect x="401.94" y="90.1" width="3" height="20.5" fill="#0b9683"/>
<rect x="406.62" y="86.3" width="1" height="31.6" fill="#ef5350" opacity=".85"/>
<rect x="405.62" y="91.1" width="3" height="24.0" fill="#ef5350"/>
<rect x="410.29" y="98.8" width="1" height="24.5" fill="#ef5350" opacity=".85"/>
<rect x="409.29" y="113.7" width="3" height="5.2" fill="#ef5350"/>
<rect x="413.96" y="93.0" width="1" height="40.3" fill="#ef5350" opacity=".85"/>
<rect x="412.96" y="116.0" width="3" height="13.8" fill="#ef5350"/>
<rect x="417.64" y="104.9" width="1" height="49.5" fill="#0b9683" opacity=".85"/>
<rect x="416.64" y="125.2" width="3" height="4.6" fill="#0b9683"/>
<rect x="421.31" y="109.3" width="1" height="33.6" fill="#ef5350" opacity=".85"/>
<rect x="420.31" y="125.2" width="3" height="4.6" fill="#ef5350"/>
<rect x="424.99" y="104.5" width="1" height="81.5" fill="#ef5350" opacity=".85"/>
<rect x="423.99" y="132.9" width="3" height="50.2" fill="#ef5350"/>
<rect x="428.66" y="99.7" width="1" height="80.5" fill="#0b9683" opacity=".85"/>
<rect x="427.66" y="108.0" width="3" height="69.0" fill="#0b9683"/>
<rect x="432.33" y="108.4" width="1" height="33.6" fill="#ef5350" opacity=".85"/>
<rect x="431.33" y="109.3" width="3" height="11.5" fill="#ef5350"/>
<rect x="436.01" y="112.6" width="1" height="48.5" fill="#ef5350" opacity=".85"/>
<rect x="435.01" y="121.8" width="3" height="29.7" fill="#ef5350"/>
<rect x="439.68" y="131.7" width="1" height="43.3" fill="#0b9683" opacity=".85"/>
<rect x="438.68" y="147.1" width="3" height="1.9" fill="#0b9683"/>
<rect x="443.36" y="127.1" width="1" height="36.8" fill="#ef5350" opacity=".85"/>
<rect x="442.36" y="143.3" width="3" height="8.8" fill="#ef5350"/>
<rect x="447.03" y="152.8" width="1" height="52.0" fill="#ef5350" opacity=".85"/>
<rect x="446.03" y="154.0" width="3" height="43.1" fill="#ef5350"/>
<rect x="450.70" y="177.0" width="1" height="39.3" fill="#0b9683" opacity=".85"/>
<rect x="449.70" y="185.1" width="3" height="17.3" fill="#0b9683"/>
<rect x="454.38" y="164.0" width="1" height="40.8" fill="#0b9683" opacity=".85"/>
<rect x="453.38" y="173.9" width="3" height="4.4" fill="#0b9683"/>
<rect x="458.05" y="143.3" width="1" height="39.9" fill="#0b9683" opacity=".85"/>
<rect x="457.05" y="169.3" width="3" height="10.9" fill="#0b9683"/>
<rect x="461.73" y="126.0" width="1" height="53.7" fill="#0b9683" opacity=".85"/>
<rect x="460.73" y="147.1" width="3" height="24.5" fill="#0b9683"/>
<rect x="465.40" y="146.7" width="1" height="38.4" fill="#ef5350" opacity=".85"/>
<rect x="464.40" y="148.2" width="3" height="30.1" fill="#ef5350"/>
<rect x="469.07" y="152.1" width="1" height="35.3" fill="#0b9683" opacity=".85"/>
<rect x="468.07" y="164.9" width="3" height="12.1" fill="#0b9683"/>
<rect x="472.75" y="150.2" width="1" height="39.1" fill="#0b9683" opacity=".85"/>
<rect x="471.75" y="155.3" width="3" height="10.2" fill="#0b9683"/>
<rect x="476.42" y="148.2" width="1" height="33.0" fill="#ef5350" opacity=".85"/>
<rect x="475.42" y="155.9" width="3" height="16.7" fill="#ef5350"/>
<rect x="480.10" y="142.5" width="1" height="35.3" fill="#0b9683" opacity=".85"/>
<rect x="479.10" y="167.8" width="3" height="4.2" fill="#0b9683"/>
<rect x="483.77" y="154.8" width="1" height="36.4" fill="#0b9683" opacity=".85"/>
<rect x="482.77" y="159.7" width="3" height="10.9" fill="#0b9683"/>
<rect x="487.44" y="84.4" width="1" height="77.3" fill="#0b9683" opacity=".85"/>
<rect x="486.44" y="89.9" width="3" height="70.6" fill="#0b9683"/>
<rect x="491.12" y="88.0" width="1" height="58.7" fill="#ef5350" opacity=".85"/>
<rect x="490.12" y="89.8" width="3" height="55.0" fill="#ef5350"/>
<rect x="494.79" y="145.7" width="1" height="44.7" fill="#ef5350" opacity=".85"/>
<rect x="493.79" y="147.1" width="3" height="38.5" fill="#ef5350"/>
<rect x="498.47" y="180.8" width="1" height="37.4" fill="#ef5350" opacity=".85"/>
<rect x="497.47" y="184.7" width="3" height="26.8" fill="#ef5350"/>
<rect x="502.14" y="202.9" width="1" height="66.3" fill="#ef5350" opacity=".85"/>
<rect x="501.14" y="204.4" width="3" height="50.4" fill="#ef5350"/>
<rect x="505.81" y="235.4" width="1" height="57.9" fill="#ef5350" opacity=".85"/>
<rect x="504.81" y="255.9" width="3" height="16.3" fill="#ef5350"/>
<rect x="509.49" y="263.0" width="1" height="45.6" fill="#ef5350" opacity=".85"/>
<rect x="508.49" y="272.6" width="3" height="6.9" fill="#ef5350"/>
<rect x="513.16" y="240.0" width="1" height="47.2" fill="#0b9683" opacity=".85"/>
<rect x="512.16" y="262.6" width="3" height="18.2" fill="#0b9683"/>
<rect x="516.84" y="248.8" width="1" height="47.4" fill="#ef5350" opacity=".85"/>
<rect x="515.84" y="262.6" width="3" height="13.8" fill="#ef5350"/>
<rect x="520.51" y="257.2" width="1" height="39.5" fill="#ef5350" opacity=".85"/>
<rect x="519.51" y="279.5" width="3" height="4.6" fill="#ef5350"/>
<rect x="524.18" y="278.9" width="1" height="70.9" fill="#ef5350" opacity=".85"/>
<rect x="523.18" y="284.7" width="3" height="38.4" fill="#ef5350"/>
<rect x="527.86" y="292.3" width="1" height="35.5" fill="#0b9683" opacity=".85"/>
<rect x="526.86" y="298.1" width="3" height="15.9" fill="#0b9683"/>
<rect x="531.53" y="282.7" width="1" height="35.5" fill="#ef5350" opacity=".85"/>
<rect x="530.53" y="300.0" width="3" height="16.3" fill="#ef5350"/>
<rect x="535.21" y="307.7" width="1" height="33.2" fill="#ef5350" opacity=".85"/>
<rect x="534.21" y="314.0" width="3" height="11.9" fill="#ef5350"/>
<rect x="538.88" y="292.3" width="1" height="47.0" fill="#0b9683" opacity=".85"/>
<rect x="537.88" y="316.7" width="3" height="13.0" fill="#0b9683"/>
<rect x="542.55" y="239.2" width="1" height="98.2" fill="#0b9683" opacity=".85"/>
<rect x="541.55" y="243.0" width="3" height="86.7" fill="#0b9683"/>
<rect x="546.23" y="240.5" width="1" height="35.5" fill="#ef5350" opacity=".85"/>
<rect x="545.23" y="248.8" width="3" height="12.8" fill="#ef5350"/>
<rect x="549.90" y="240.0" width="1" height="42.8" fill="#ef5350" opacity=".85"/>
<rect x="548.90" y="263.0" width="3" height="12.7" fill="#ef5350"/>
<rect x="553.58" y="252.1" width="1" height="41.6" fill="#0b9683" opacity=".85"/>
<rect x="552.58" y="263.0" width="3" height="11.5" fill="#0b9683"/>
<rect x="557.25" y="250.1" width="1" height="39.7" fill="#ef5350" opacity=".85"/>
<rect x="556.25" y="260.3" width="3" height="10.9" fill="#ef5350"/>
<rect x="560.92" y="252.1" width="1" height="43.1" fill="#ef5350" opacity=".85"/>
<rect x="559.92" y="271.2" width="3" height="12.8" fill="#ef5350"/>
<rect x="564.60" y="256.8" width="1" height="62.3" fill="#0b9683" opacity=".85"/>
<rect x="563.60" y="261.6" width="3" height="21.1" fill="#0b9683"/>
<rect x="568.27" y="254.9" width="1" height="51.8" fill="#ef5350" opacity=".85"/>
<rect x="567.27" y="256.8" width="3" height="47.9" fill="#ef5350"/>
<rect x="571.95" y="262.2" width="1" height="49.3" fill="#0b9683" opacity=".85"/>
<rect x="570.95" y="264.1" width="3" height="41.6" fill="#0b9683"/>
<rect x="575.62" y="248.2" width="1" height="37.4" fill="#ef5350" opacity=".85"/>
<rect x="574.62" y="269.3" width="3" height="6.7" fill="#ef5350"/>
<rect x="579.29" y="262.2" width="1" height="34.5" fill="#0b9683" opacity=".85"/>
<rect x="578.29" y="271.2" width="3" height="7.7" fill="#0b9683"/>
<rect x="582.97" y="245.0" width="1" height="34.9" fill="#ef5350" opacity=".85"/>
<rect x="581.97" y="248.8" width="3" height="29.1" fill="#ef5350"/>
<rect x="586.64" y="262.6" width="1" height="31.6" fill="#0b9683" opacity=".85"/>
<rect x="585.64" y="277.0" width="3" height="6.7" fill="#0b9683"/>
<rect x="590.32" y="277.9" width="1" height="51.8" fill="#ef5350" opacity=".85"/>
<rect x="589.32" y="279.5" width="3" height="48.3" fill="#ef5350"/>
<rect x="593.99" y="288.5" width="1" height="30.7" fill="#0b9683" opacity=".85"/>
<rect x="592.99" y="305.2" width="3" height="2.5" fill="#0b9683"/>
<rect x="597.66" y="299.0" width="1" height="53.7" fill="#ef5350" opacity=".85"/>
<rect x="596.66" y="300.0" width="3" height="17.3" fill="#ef5350"/>
<rect x="601.34" y="302.9" width="1" height="21.1" fill="#0b9683" opacity=".85"/>
<rect x="600.34" y="312.1" width="3" height="9.6" fill="#0b9683"/>
<rect x="605.01" y="288.5" width="1" height="39.3" fill="#0b9683" opacity=".85"/>
<rect x="604.01" y="291.7" width="3" height="21.1" fill="#0b9683"/>
<rect x="608.69" y="285.6" width="1" height="36.4" fill="#0b9683" opacity=".85"/>
<rect x="607.69" y="288.5" width="3" height="9.0" fill="#0b9683"/>
<rect x="612.36" y="264.5" width="1" height="43.1" fill="#0b9683" opacity=".85"/>
<rect x="611.36" y="273.1" width="3" height="17.8" fill="#0b9683"/>
<rect x="616.03" y="246.3" width="1" height="35.1" fill="#0b9683" opacity=".85"/>
<rect x="615.03" y="259.1" width="3" height="15.3" fill="#0b9683"/>
<rect x="619.71" y="255.9" width="1" height="25.9" fill="#0b9683" opacity=".85"/>
<rect x="618.71" y="264.5" width="3" height="2.9" fill="#0b9683"/>
<rect x="623.38" y="209.7" width="1" height="52.0" fill="#0b9683" opacity=".85"/>
<rect x="622.38" y="211.6" width="3" height="49.1" fill="#0b9683"/>
<rect x="627.06" y="202.5" width="1" height="18.6" fill="#ef5350" opacity=".85"/>
<rect x="626.06" y="211.5" width="3" height="7.1" fill="#ef5350"/>
<rect x="630.73" y="209.6" width="1" height="27.8" fill="#ef5350" opacity=".85"/>
<rect x="629.73" y="216.3" width="3" height="15.3" fill="#ef5350"/>
<rect x="634.40" y="209.0" width="1" height="26.5" fill="#0b9683" opacity=".85"/>
<rect x="633.40" y="227.4" width="3" height="3.3" fill="#0b9683"/>
<rect x="638.08" y="203.8" width="1" height="46.2" fill="#ef5350" opacity=".85"/>
<rect x="637.08" y="213.4" width="3" height="35.7" fill="#ef5350"/>
<rect x="641.75" y="213.4" width="1" height="38.0" fill="#0b9683" opacity=".85"/>
<rect x="640.75" y="215.9" width="3" height="33.2" fill="#0b9683"/>
<rect x="645.43" y="206.7" width="1" height="26.8" fill="#ef5350" opacity=".85"/>
<rect x="644.43" y="207.7" width="3" height="23.0" fill="#ef5350"/>
<rect x="649.10" y="207.1" width="1" height="27.4" fill="#0b9683" opacity=".85"/>
<rect x="648.10" y="212.8" width="3" height="15.0" fill="#0b9683"/>
<rect x="652.77" y="195.6" width="1" height="32.2" fill="#ef5350" opacity=".85"/>
<rect x="651.77" y="216.3" width="3" height="5.8" fill="#ef5350"/>
<rect x="656.45" y="217.2" width="1" height="27.8" fill="#ef5350" opacity=".85"/>
<rect x="655.45" y="218.6" width="3" height="15.0" fill="#ef5350"/>
<rect x="660.12" y="222.1" width="1" height="51.6" fill="#ef5350" opacity=".85"/>
<rect x="659.12" y="233.5" width="3" height="23.8" fill="#ef5350"/>
<rect x="663.80" y="247.3" width="1" height="40.3" fill="#0b9683" opacity=".85"/>
<rect x="662.80" y="272.2" width="3" height="6.1" fill="#0b9683"/>
<rect x="667.47" y="271.2" width="1" height="24.9" fill="#ef5350" opacity=".85"/>
<rect x="666.47" y="277.9" width="3" height="6.7" fill="#ef5350"/>
<rect x="671.14" y="280.8" width="1" height="33.6" fill="#ef5350" opacity=".85"/>
<rect x="670.14" y="283.3" width="3" height="14.8" fill="#ef5350"/>
<rect x="674.82" y="292.3" width="1" height="30.7" fill="#ef5350" opacity=".85"/>
<rect x="673.82" y="297.5" width="3" height="22.6" fill="#ef5350"/>
<rect x="678.49" y="306.7" width="1" height="26.8" fill="#ef5350" opacity=".85"/>
<rect x="677.49" y="322.0" width="3" height="1.9" fill="#ef5350"/>
<rect x="682.17" y="297.1" width="1" height="27.8" fill="#ef5350" opacity=".85"/>
<rect x="681.17" y="321.7" width="3" height="1.3" fill="#ef5350"/>
<rect x="685.84" y="285.6" width="1" height="42.2" fill="#0b9683" opacity=".85"/>
<rect x="684.84" y="296.2" width="3" height="25.9" fill="#0b9683"/>
<rect x="689.51" y="280.8" width="1" height="25.9" fill="#ef5350" opacity=".85"/>
<rect x="688.51" y="295.6" width="3" height="1.5" fill="#ef5350"/>
<rect x="693.19" y="278.9" width="1" height="41.2" fill="#ef5350" opacity=".85"/>
<rect x="692.19" y="280.2" width="3" height="32.2" fill="#ef5350"/>
<rect x="696.86" y="293.3" width="1" height="36.4" fill="#0b9683" opacity=".85"/>
<rect x="695.86" y="300.0" width="3" height="9.6" fill="#0b9683"/>
<rect x="700.54" y="262.6" width="1" height="42.2" fill="#0b9683" opacity=".85"/>
<rect x="699.54" y="279.5" width="3" height="20.5" fill="#0b9683"/>
<rect x="704.21" y="277.9" width="1" height="26.8" fill="#ef5350" opacity=".85"/>
<rect x="703.21" y="280.2" width="3" height="23.6" fill="#ef5350"/>
<rect x="707.88" y="289.4" width="1" height="57.5" fill="#ef5350" opacity=".85"/>
<rect x="706.88" y="300.9" width="3" height="42.2" fill="#ef5350"/>
<rect x="711.56" y="327.8" width="1" height="30.3" fill="#0b9683" opacity=".85"/>
<rect x="710.56" y="337.0" width="3" height="10.0" fill="#0b9683"/>
<rect x="715.23" y="319.2" width="1" height="25.9" fill="#ef5350" opacity=".85"/>
<rect x="714.23" y="333.5" width="3" height="1.9" fill="#ef5350"/>
<rect x="718.91" y="324.9" width="1" height="34.9" fill="#ef5350" opacity=".85"/>
<rect x="717.91" y="334.5" width="3" height="23.0" fill="#ef5350"/>
<rect x="722.58" y="340.3" width="1" height="31.1" fill="#0b9683" opacity=".85"/>
<rect x="721.58" y="356.0" width="3" height="6.3" fill="#0b9683"/>
<rect x="726.25" y="316.3" width="1" height="57.5" fill="#0b9683" opacity=".85"/>
<rect x="725.25" y="321.5" width="3" height="27.4" fill="#0b9683"/>
<rect x="729.93" y="296.2" width="1" height="40.3" fill="#0b9683" opacity=".85"/>
<rect x="728.93" y="297.5" width="3" height="24.5" fill="#0b9683"/>
<rect x="733.60" y="296.2" width="1" height="42.2" fill="#ef5350" opacity=".85"/>
<rect x="732.60" y="300.6" width="3" height="31.1" fill="#ef5350"/>
<rect x="737.28" y="324.3" width="1" height="18.8" fill="#0b9683" opacity=".85"/>
<rect x="736.28" y="333.5" width="3" height="1.9" fill="#0b9683"/>
<rect x="740.95" y="325.9" width="1" height="36.4" fill="#ef5350" opacity=".85"/>
<rect x="739.95" y="334.5" width="3" height="11.5" fill="#ef5350"/>
<rect x="744.62" y="319.2" width="1" height="32.6" fill="#0b9683" opacity=".85"/>
<rect x="743.62" y="323.6" width="3" height="24.4" fill="#0b9683"/>
<rect x="748.30" y="316.7" width="1" height="26.5" fill="#0b9683" opacity=".85"/>
<rect x="747.30" y="319.7" width="3" height="4.2" fill="#0b9683"/>
<rect x="751.97" y="301.3" width="1" height="27.4" fill="#0b9683" opacity=".85"/>
<rect x="750.97" y="307.1" width="3" height="13.0" fill="#0b9683"/>
<rect x="755.65" y="299.4" width="1" height="24.5" fill="#ef5350" opacity=".85"/>
<rect x="754.65" y="302.9" width="3" height="12.5" fill="#ef5350"/>
<rect x="759.32" y="287.5" width="1" height="27.8" fill="#0b9683" opacity=".85"/>
<rect x="758.32" y="303.8" width="3" height="7.7" fill="#0b9683"/>
<rect x="762.99" y="301.9" width="1" height="26.8" fill="#ef5350" opacity=".85"/>
<rect x="761.99" y="303.8" width="3" height="16.3" fill="#ef5350"/>
<rect x="766.67" y="310.2" width="1" height="18.6" fill="#0b9683" opacity=".85"/>
<rect x="765.67" y="316.3" width="3" height="4.8" fill="#0b9683"/>
<rect x="770.34" y="301.3" width="1" height="20.7" fill="#ef5350" opacity=".85"/>
<rect x="769.34" y="317.2" width="3" height="1.9" fill="#ef5350"/>
<rect x="774.02" y="279.9" width="1" height="47.0" fill="#0b9683" opacity=".85"/>
<rect x="773.02" y="289.4" width="3" height="23.0" fill="#0b9683"/>
<rect x="777.69" y="252.6" width="1" height="39.1" fill="#0b9683" opacity=".85"/>
<rect x="776.69" y="269.9" width="3" height="13.8" fill="#0b9683"/>
<rect x="781.36" y="252.5" width="1" height="18.2" fill="#0b9683" opacity=".85"/>
<rect x="780.36" y="261.7" width="3" height="6.1" fill="#0b9683"/>
<rect x="785.04" y="243.8" width="1" height="22.1" fill="#0b9683" opacity=".85"/>
<rect x="784.04" y="253.4" width="3" height="8.6" fill="#0b9683"/>
<rect x="788.71" y="250.2" width="1" height="28.2" fill="#ef5350" opacity=".85"/>
<rect x="787.71" y="254.4" width="3" height="14.4" fill="#ef5350"/>
<rect x="792.39" y="250.5" width="1" height="26.8" fill="#0b9683" opacity=".85"/>
<rect x="791.39" y="258.6" width="3" height="17.8" fill="#0b9683"/>
<rect x="796.06" y="232.9" width="1" height="29.1" fill="#0b9683" opacity=".85"/>
<rect x="795.06" y="247.7" width="3" height="14.0" fill="#0b9683"/>
<rect x="799.73" y="245.7" width="1" height="61.2" fill="#ef5350" opacity=".85"/>
<rect x="798.73" y="247.1" width="3" height="57.9" fill="#ef5350"/>
<rect x="803.41" y="307.9" width="1" height="59.4" fill="#ef5350" opacity=".85"/>
<rect x="802.41" y="309.5" width="3" height="53.1" fill="#ef5350"/>
<rect x="807.08" y="325.2" width="1" height="47.0" fill="#0b9683" opacity=".85"/>
<rect x="806.08" y="349.2" width="3" height="22.1" fill="#0b9683"/>
<rect x="810.76" y="323.3" width="1" height="30.7" fill="#0b9683" opacity=".85"/>
<rect x="809.76" y="332.9" width="3" height="18.2" fill="#0b9683"/>
<rect x="814.43" y="321.4" width="1" height="25.9" fill="#0b9683" opacity=".85"/>
<rect x="813.43" y="330.0" width="3" height="1.9" fill="#0b9683"/>
<rect x="818.10" y="330.0" width="1" height="34.5" fill="#ef5350" opacity=".85"/>
<rect x="817.10" y="335.7" width="3" height="16.3" fill="#ef5350"/>
<rect x="821.78" y="324.2" width="1" height="44.1" fill="#0b9683" opacity=".85"/>
<rect x="820.78" y="346.3" width="3" height="14.4" fill="#0b9683"/>
<rect x="825.45" y="344.4" width="1" height="57.9" fill="#ef5350" opacity=".85"/>
<rect x="824.45" y="355.9" width="3" height="24.9" fill="#ef5350"/>
<rect x="829.13" y="362.1" width="1" height="188.3" fill="#ef5350" opacity=".85"/>
<rect x="828.13" y="364.0" width="3" height="118.3" fill="#ef5350"/>
<rect x="832.80" y="457.4" width="1" height="77.3" fill="#0b9683" opacity=".85"/>
<rect x="831.80" y="480.9" width="3" height="10.2" fill="#0b9683"/>
<rect x="836.47" y="454.5" width="1" height="40.8" fill="#0b9683" opacity=".85"/>
<rect x="835.47" y="473.7" width="3" height="17.4" fill="#0b9683"/>
<rect x="840.15" y="430.5" width="1" height="48.5" fill="#0b9683" opacity=".85"/>
<rect x="839.15" y="451.2" width="3" height="25.3" fill="#0b9683"/>
<rect x="843.82" y="417.1" width="1" height="33.2" fill="#0b9683" opacity=".85"/>
<rect x="842.82" y="422.5" width="3" height="14.4" fill="#0b9683"/>
<rect x="847.50" y="415.2" width="1" height="74.8" fill="#ef5350" opacity=".85"/>
<rect x="846.50" y="421.5" width="3" height="2.9" fill="#ef5350"/>
<rect x="851.17" y="399.8" width="1" height="42.8" fill="#ef5350" opacity=".85"/>
<rect x="850.17" y="418.2" width="3" height="14.8" fill="#ef5350"/>
<rect x="854.84" y="391.8" width="1" height="50.8" fill="#0b9683" opacity=".85"/>
<rect x="853.84" y="401.0" width="3" height="34.9" fill="#0b9683"/>
<rect x="858.52" y="392.2" width="1" height="39.9" fill="#ef5350" opacity=".85"/>
<rect x="857.52" y="399.1" width="3" height="28.2" fill="#ef5350"/>
<rect x="862.19" y="378.4" width="1" height="47.0" fill="#0b9683" opacity=".85"/>
<rect x="861.19" y="407.1" width="3" height="17.6" fill="#0b9683"/>
<rect x="865.87" y="381.8" width="1" height="35.9" fill="#0b9683" opacity=".85"/>
<rect x="864.87" y="394.1" width="3" height="22.6" fill="#0b9683"/>
<rect x="869.54" y="342.9" width="1" height="50.8" fill="#0b9683" opacity=".85"/>
<rect x="868.54" y="348.1" width="3" height="44.7" fill="#0b9683"/>
<rect x="873.21" y="298.4" width="1" height="59.8" fill="#0b9683" opacity=".85"/>
<rect x="872.21" y="332.9" width="3" height="20.1" fill="#0b9683"/>
<rect x="876.89" y="315.6" width="1" height="42.2" fill="#0b9683" opacity=".85"/>
<rect x="875.89" y="329.4" width="3" height="7.3" fill="#0b9683"/>
<rect x="880.56" y="298.0" width="1" height="38.4" fill="#0b9683" opacity=".85"/>
<rect x="879.56" y="313.3" width="3" height="19.6" fill="#0b9683"/>
<rect x="884.24" y="274.4" width="1" height="42.2" fill="#0b9683" opacity=".85"/>
<rect x="883.24" y="282.1" width="3" height="33.6" fill="#0b9683"/>
<rect x="887.91" y="222.7" width="1" height="68.1" fill="#0b9683" opacity=".85"/>
<rect x="886.91" y="229.4" width="3" height="59.4" fill="#0b9683"/>
<rect x="891.58" y="196.8" width="1" height="51.4" fill="#ef5350" opacity=".85"/>
<rect x="890.58" y="221.8" width="3" height="10.5" fill="#ef5350"/>
</g>
<g stroke="#4f525e" stroke-width="1.1" fill="none">
<line x1="5" x2="1041.2" y1="23" y2="23"/>
<line x1="5" x2="1041.2" y1="611.6" y2="611.6"/>
<line x1="5" x2="1041.2" y1="639.6" y2="639.6"/>
<line x1="5.7" x2="5.7" y1="22.5" y2="640"/>
<line x1="930.4" x2="930.4" y1="22.5" y2="640"/>
<line x1="982.5" x2="982.5" y1="22.5" y2="640"/>
<line x1="1040.7" x2="1040.7" y1="22.5" y2="640"/>
<line x1="931" x2="934.8" y1="64.5" y2="64.5"/>
<line x1="931" x2="934.8" y1="108.6" y2="108.6"/>
<line x1="931" x2="934.8" y1="150.9" y2="150.9"/>
<line x1="931" x2="934.8" y1="194.6" y2="194.6"/>
<line x1="931" x2="934.8" y1="237.9" y2="237.9"/>
<line x1="931" x2="934.8" y1="281.3" y2="281.3"/>
<line x1="931" x2="934.8" y1="324.7" y2="324.7"/>
<line x1="931" x2="934.8" y1="368.4" y2="368.4"/>
<line x1="931" x2="934.8" y1="411.6" y2="411.6"/>
<line x1="931" x2="934.8" y1="454.8" y2="454.8"/>
<line x1="931" x2="934.8" y1="497.9" y2="497.9"/>
<line x1="931" x2="934.8" y1="541.2" y2="541.2"/>
<line x1="931" x2="934.8" y1="584.8" y2="584.8"/>
<line x1="983" x2="986.8" y1="34.3" y2="34.3"/>
<line x1="983" x2="986.8" y1="68.1" y2="68.1"/>
<line x1="983" x2="986.8" y1="101.9" y2="101.9"/>
<line x1="983" x2="986.8" y1="135.7" y2="135.7"/>
<line x1="983" x2="986.8" y1="169.5" y2="169.5"/>
<line x1="983" x2="986.8" y1="203.2" y2="203.2"/>
<line x1="983" x2="986.8" y1="237.0" y2="237.0"/>
<line x1="983" x2="986.8" y1="270.8" y2="270.8"/>
<line x1="983" x2="986.8" y1="304.6" y2="304.6"/>
<line x1="983" x2="986.8" y1="338.4" y2="338.4"/>
<line x1="983" x2="986.8" y1="372.2" y2="372.2"/>
<line x1="983" x2="986.8" y1="406.0" y2="406.0"/>
<line x1="983" x2="986.8" y1="439.8" y2="439.8"/>
<line x1="983" x2="986.8" y1="473.6" y2="473.6"/>
<line x1="983" x2="986.8" y1="507.4" y2="507.4"/>
<line x1="983" x2="986.8" y1="541.1" y2="541.1"/>
<line x1="983" x2="986.8" y1="574.9" y2="574.9"/>
<line x1="983" x2="986.8" y1="608.7" y2="608.7"/>
<line x1="24.6" x2="24.6" y1="612" y2="615.3"/>
<line x1="105.5" x2="105.5" y1="612" y2="615.3"/>
<line x1="216.0" x2="216.0" y1="612" y2="615.3"/>
<line x1="297.0" x2="297.0" y1="612" y2="615.3"/>
<line x1="407.2" x2="407.2" y1="612" y2="615.3"/>
<line x1="488.5" x2="488.5" y1="612" y2="615.3"/>
<line x1="602.7" x2="602.7" y1="612" y2="615.3"/>
<line x1="694.1" x2="694.1" y1="612" y2="615.3"/>
<line x1="792.4" x2="792.4" y1="612" y2="615.3"/>
<line x1="888.3" x2="888.3" y1="612" y2="615.3"/>
</g>
<g font-size="12" fill="#50535c">
<text x="938.9" y="68.9" textLength="34.5" lengthAdjust="spacingAndGlyphs">3.3750</text>
<text x="938.9" y="113.0" textLength="34.5" lengthAdjust="spacingAndGlyphs">3.2500</text>
<text x="938.9" y="155.3" textLength="34.5" lengthAdjust="spacingAndGlyphs">3.1250</text>
<text x="938.9" y="199.0" textLength="34.5" lengthAdjust="spacingAndGlyphs">3.0000</text>
<text x="938.9" y="285.7" textLength="34.5" lengthAdjust="spacingAndGlyphs">2.7500</text>
<text x="938.9" y="329.1" textLength="34.5" lengthAdjust="spacingAndGlyphs">2.6250</text>
<text x="938.9" y="372.8" textLength="34.5" lengthAdjust="spacingAndGlyphs">2.5000</text>
<text x="938.9" y="416.0" textLength="34.5" lengthAdjust="spacingAndGlyphs">2.3750</text>
<text x="938.9" y="459.2" textLength="34.5" lengthAdjust="spacingAndGlyphs">2.2500</text>
<text x="938.9" y="502.3" textLength="34.5" lengthAdjust="spacingAndGlyphs">2.1250</text>
<text x="938.9" y="545.6" textLength="34.5" lengthAdjust="spacingAndGlyphs">2.0000</text>
<text x="938.9" y="589.2" textLength="34.5" lengthAdjust="spacingAndGlyphs">1.8750</text>
</g>
<g font-size="12" fill="#50535c" clip-path="url(#axb)">
<text x="991.2" y="38.7" textLength="28" lengthAdjust="spacingAndGlyphs">80.00</text>
<text x="991.2" y="72.5" textLength="28" lengthAdjust="spacingAndGlyphs">76.00</text>
<text x="991.2" y="106.3" textLength="28" lengthAdjust="spacingAndGlyphs">72.00</text>
<text x="991.2" y="140.1" textLength="28" lengthAdjust="spacingAndGlyphs">68.00</text>
<text x="991.2" y="173.9" textLength="28" lengthAdjust="spacingAndGlyphs">64.00</text>
<text x="991.2" y="207.7" textLength="28" lengthAdjust="spacingAndGlyphs">60.00</text>
<text x="991.2" y="241.4" textLength="28" lengthAdjust="spacingAndGlyphs">56.00</text>
<text x="991.2" y="275.2" textLength="28" lengthAdjust="spacingAndGlyphs">52.00</text>
<text x="991.2" y="309.0" textLength="28" lengthAdjust="spacingAndGlyphs">48.00</text>
<text x="991.2" y="342.8" textLength="28" lengthAdjust="spacingAndGlyphs">44.00</text>
<text x="991.2" y="410.4" textLength="28" lengthAdjust="spacingAndGlyphs">36.00</text>
<text x="991.2" y="444.2" textLength="28" lengthAdjust="spacingAndGlyphs">32.00</text>
<text x="991.2" y="478.0" textLength="28" lengthAdjust="spacingAndGlyphs">28.00</text>
<text x="991.2" y="511.8" textLength="28" lengthAdjust="spacingAndGlyphs">24.00</text>
<text x="991.2" y="545.5" textLength="28" lengthAdjust="spacingAndGlyphs">20.00</text>
<text x="991.2" y="579.3" textLength="28" lengthAdjust="spacingAndGlyphs">16.00</text>
<text x="991.2" y="613.1" textLength="28" lengthAdjust="spacingAndGlyphs">12.00</text>
</g>
<rect x="930" y="224" width="51.2" height="17.7" fill="#ef5350"/><line x1="930.6" x2="934" y1="232.6" y2="232.6" stroke="#fff" stroke-width="1.1"/>
<text x="938.9" y="236.8" font-size="12" font-weight="bold" fill="#fff" textLength="34.5" lengthAdjust="spacingAndGlyphs">2.8885</text>
<rect x="982" y="362.1" width="46" height="17.7" fill="#ff4000"/><line x1="983" x2="986.5" y1="370.8" y2="370.8" stroke="#fff" stroke-width="1.1"/>
<text x="991.2" y="375.1" font-size="12" font-weight="bold" fill="#fff" textLength="28" lengthAdjust="spacingAndGlyphs">40.16</text>
<g font-size="12" fill="#50535c">
<text x="11.5" y="630.9" textLength="26.2" lengthAdjust="spacingAndGlyphs" font-weight="bold">2016</text>
<text x="96.8" y="630.9" textLength="17.5" lengthAdjust="spacingAndGlyphs">Jun</text>
<text x="202.9" y="630.9" textLength="26.2" lengthAdjust="spacingAndGlyphs" font-weight="bold">2017</text>
<text x="288.2" y="630.9" textLength="17.5" lengthAdjust="spacingAndGlyphs">Jun</text>
<text x="394.1" y="630.9" textLength="26.2" lengthAdjust="spacingAndGlyphs" font-weight="bold">2018</text>
<text x="479.8" y="630.9" textLength="17.5" lengthAdjust="spacingAndGlyphs">Jun</text>
<text x="589.6" y="630.9" textLength="26.2" lengthAdjust="spacingAndGlyphs" font-weight="bold">2019</text>
<text x="687.0" y="630.9" textLength="14.2" lengthAdjust="spacingAndGlyphs">Jul</text>
<text x="779.3" y="630.9" textLength="26.2" lengthAdjust="spacingAndGlyphs" font-weight="bold">2020</text>
<text x="881.2" y="630.9" textLength="14.2" lengthAdjust="spacingAndGlyphs">Jul</text>
</g>
<circle cx="956.1" cy="625.4" r="9.7" fill="#eceff4"/><text x="956.1" y="629.6" font-size="11" fill="#50535c" text-anchor="middle">A</text>
<circle cx="1011.2" cy="625" r="9.7" fill="#eceff4"/><text x="1011.2" y="629.2" font-size="11" fill="#50535c" text-anchor="middle">B</text>
<g font-size="12" fill="#50535c" lengthAdjust="spacingAndGlyphs">
<text x="13.8" y="44.2" font-weight="bold" fill="#46494f" textLength="161" lengthAdjust="spacingAndGlyphs">Copper Futures, 1W, COMEX</text>
<text x="13.8" y="60.5" textLength="76.3" lengthAdjust="spacingAndGlyphs">MA (55, close)</text>
<text x="13.8" y="76.8" textLength="83.6" lengthAdjust="spacingAndGlyphs">MA (200, close)</text>
<text x="13.8" y="93.1" textLength="60.6" lengthAdjust="spacingAndGlyphs">USOIL, TVC</text>
</g>
<g font-size="12.2">
<text x="5.8" y="14.3" textLength="119.0" lengthAdjust="spacingAndGlyphs" fill="#1d1f25" font-weight="bold">COMEX_DL:HG1!, 1W</text>
<text x="131.8" y="14.3" textLength="35.8" lengthAdjust="spacingAndGlyphs" fill="#1d1f25">2.8885</text>
<text x="185.9" y="14.3" textLength="42.5" lengthAdjust="spacingAndGlyphs" fill="#1d1f25">−0.0130</text>
<text x="233.4" y="14.3" textLength="46.7" lengthAdjust="spacingAndGlyphs" fill="#1d1f25">(−0.45%)</text>
<text x="285.5" y="14.3" textLength="11.6" lengthAdjust="spacingAndGlyphs" fill="#1d1f25" font-weight="bold">O:</text>
<text x="298.8" y="14.3" textLength="36.4" lengthAdjust="spacingAndGlyphs" fill="#f0564f">2.9195</text>
<text x="340.7" y="14.3" textLength="11.2" lengthAdjust="spacingAndGlyphs" fill="#1d1f25" font-weight="bold">H:</text>
<text x="354.0" y="14.3" textLength="36.2" lengthAdjust="spacingAndGlyphs" fill="#f0564f">2.9930</text>
<text x="395.7" y="14.3" textLength="8.7" lengthAdjust="spacingAndGlyphs" fill="#1d1f25" font-weight="bold">L:</text>
<text x="406.4" y="14.3" textLength="36.1" lengthAdjust="spacingAndGlyphs" fill="#f0564f">2.8450</text>
<text x="447.5" y="14.3" textLength="10.3" lengthAdjust="spacingAndGlyphs" fill="#1d1f25" font-weight="bold">C:</text>
<text x="459.5" y="14.3" textLength="36.3" lengthAdjust="spacingAndGlyphs" fill="#f0564f">2.8885</text>
</g>
<path d="M172.4 5.9 L181.8 5.9 L177.1 14.3 Z" fill="#f04a46"/>
<g fill="#2196f3"><circle cx="8.8" cy="660.2" r="4"/><circle cx="15.6" cy="655.7" r="5.9"/><circle cx="25" cy="659.3" r="4.9"/><circle cx="22" cy="656" r="2.6"/><rect x="8.8" y="657" width="16.2" height="7.2"/></g>
<path d="M6 661.8 L14.1 655.5 L20.2 661.2 L27 654.6" fill="none" stroke="#fff" stroke-width="1.05"/><circle cx="14.1" cy="655.4" r="1.4" fill="#fff"/><circle cx="20.2" cy="661.2" r="1.4" fill="#fff"/>
<text x="32.3" y="661.6" font-size="12" fill="#2a2e39" textLength="67.6" lengthAdjust="spacingAndGlyphs">TradingView</text>
</svg></body></html>
